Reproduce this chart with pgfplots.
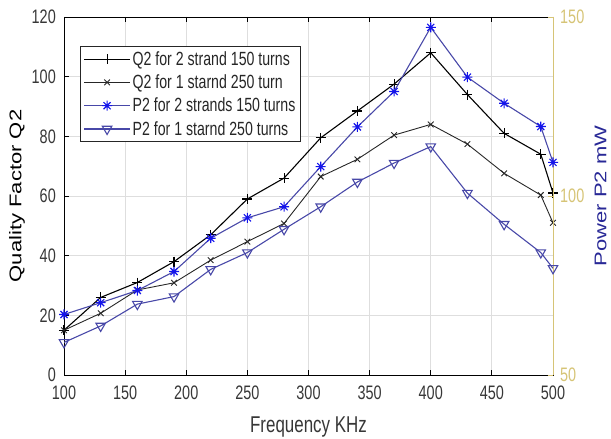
\documentclass[border=0pt]{standalone}
\usepackage{pgfplots}
\pgfplotsset{compat=1.18}
\usepackage{graphicx}
\usepackage{fontspec}
\setmainfont{Liberation Sans}
\definecolor{rcol}{RGB}{214,196,118}
\definecolor{bline}{RGB}{72,72,168}
\definecolor{bmark}{RGB}{20,20,235}
\definecolor{tickc}{RGB}{55,55,55}
\definecolor{plab}{RGB}{40,40,150}
\definecolor{gridc}{RGB}{222,222,222}
\pgfdeclareplotmark{ast8}{%
 \pgfpathmoveto{\pgfqpoint{0pt}{\pgfplotmarksize}}\pgfpathlineto{\pgfqpoint{0pt}{-\pgfplotmarksize}}%
 \pgfpathmoveto{\pgfqpoint{\pgfplotmarksize}{0pt}}\pgfpathlineto{\pgfqpoint{-\pgfplotmarksize}{0pt}}%
 \pgfpathmoveto{\pgfqpoint{0.707\pgfplotmarksize}{0.707\pgfplotmarksize}}\pgfpathlineto{\pgfqpoint{-0.707\pgfplotmarksize}{-0.707\pgfplotmarksize}}%
 \pgfpathmoveto{\pgfqpoint{-0.707\pgfplotmarksize}{0.707\pgfplotmarksize}}\pgfpathlineto{\pgfqpoint{0.707\pgfplotmarksize}{-0.707\pgfplotmarksize}}%
 \pgfusepathqstroke}
\newcommand{\vs}[1]{\scalebox{1}[1.35]{#1}}
\newcommand{\hs}[1]{\scalebox{1.3}[1]{#1}}
\begin{document}
\begin{tikzpicture}
\useasboundingbox (0,0) rectangle (611bp,439bp);
\pgfplotsset{
  common/.style={
    width=489bp, height=358bp, scale only axis,
    at={(64bp,64bp)}, anchor=south west,
    xmin=100, xmax=500,
    tick align=inside, major tick length=5bp,
    /pgf/number format/assume math mode=true,
    ticklabel style={font=\fontsize{14.5}{16}\selectfont},
    label style={font=\fontsize{17}{19}\selectfont},
  }
}
\begin{axis}[common,
  ymin=0, ymax=120,
  xtick={100,150,...,500}, ytick={0,20,...,120},
  xtick pos=both, ytick pos=left,
  grid=major, grid style={gridc, line width=0.8pt},
  axis line style={black, line width=0.9pt},
  tick style={black, line width=0.8pt},
  xticklabel={\vs{\pgfmathprintnumber{\tick}}},
  yticklabel={\vs{\pgfmathprintnumber{\tick}}},
  xticklabel style={text=tickc, anchor=center, inner sep=0pt, yshift=-18bp},
  yticklabel style={text=tickc, anchor=east, inner sep=0pt, xshift=-8bp},
  xlabel={\vs{Frequency KHz}},
  xlabel style={text=tickc, at={(axis description cs:0.5,-0.145)}, anchor=center, inner sep=0pt},
  ylabel={\hs{Quality Factor Q2}},
  ylabel style={at={(axis description cs:-0.096,0.5)}, anchor=center, inner sep=0pt},
]
\addplot[black, line width=1.1pt, mark=+, mark size=5bp, mark options={line width=1.1pt}] coordinates {
(100,15) (130,26) (160,31) (190,38) (220,47) (250,59) (280,66) (310,79.5) (340,88.5) (370,97.5) (400,108) (430,94) (460,81) (490,74) (500,61)};
\addplot[black!85, line width=0.9pt, mark=x, mark size=4bp, mark options={line width=0.9pt}] coordinates {
(100,15) (130,20.7) (160,28.5) (190,30.9) (220,38.5) (250,44.7) (280,50.8) (310,66.5) (340,72.3) (370,80.4) (400,84) (430,77.4) (460,67.6) (490,60.3) (500,51)};
\end{axis}
\begin{axis}[common,
  ymin=50, ymax=150,
  ytick={50,100,150},
  axis x line=none, axis y line*=right,
  axis line style={rcol, line width=1pt},
  y tick style={rcol, line width=0.8pt},
  yticklabel={\vs{\pgfmathprintnumber{\tick}}},
  yticklabel style={text=rcol, anchor=west, inner sep=0pt, xshift=7bp},
  ylabel={\hs{Power P2 mW}},
  ylabel style={text=plab, at={(axis description cs:1.097,0.5)}, anchor=center, inner sep=0pt},
  legend style={at={(0.033,0.919)}, anchor=north west, draw=black!85, line width=0.8pt,
    font=\fontsize{14.2}{16}\selectfont, text=black!85, row sep=4bp,
    inner xsep=3bp, inner ysep=3bp},
  legend cell align=left,
  legend image code/.code={\draw[mark repeat=2,mark phase=2,#1] plot coordinates {(0bp,0bp) (23bp,0bp) (46bp,0bp)};},
]
\addlegendimage{black, line width=1.1pt, mark=+, mark size=5bp, mark options={line width=1.1pt}}
\addlegendentry{\vs{Q2 for 2 strand 150 turns}}
\addlegendimage{black!85, line width=0.9pt, mark=x, mark size=4bp, mark options={line width=0.9pt}}
\addlegendentry{\vs{Q2 for 1 starnd 250 turn}}
\addplot[bline, line width=1.1pt, mark=ast8, mark size=5bp, mark options={bmark, line width=1.1pt}] coordinates {
(100,66.9) (130,70.2) (160,73.6) (190,78.9) (220,88.2) (250,93.9) (280,97) (310,108.2) (340,119.3) (370,129.2) (400,147.1) (430,133.2) (460,125.9) (490,119.4) (500,109.4)};
\addlegendentry{\vs{P2 for 2 strands 150 turns}}
\addplot[bline, line width=1.1pt, mark=triangle, mark size=5.5bp, mark options={bline, rotate=180, line width=1.1pt, fill=white}] coordinates {
(100,59.1) (130,63.7) (160,69.8) (190,71.9) (220,79.5) (250,84.2) (280,90.7) (310,97) (340,103.9) (370,109.2) (400,113.8) (430,100.8) (460,92.1) (490,84.2) (500,79.8)};
\addlegendentry{\vs{P2 for 1 starnd 250 turns}}
\end{axis}
\end{tikzpicture}
\end{document}
